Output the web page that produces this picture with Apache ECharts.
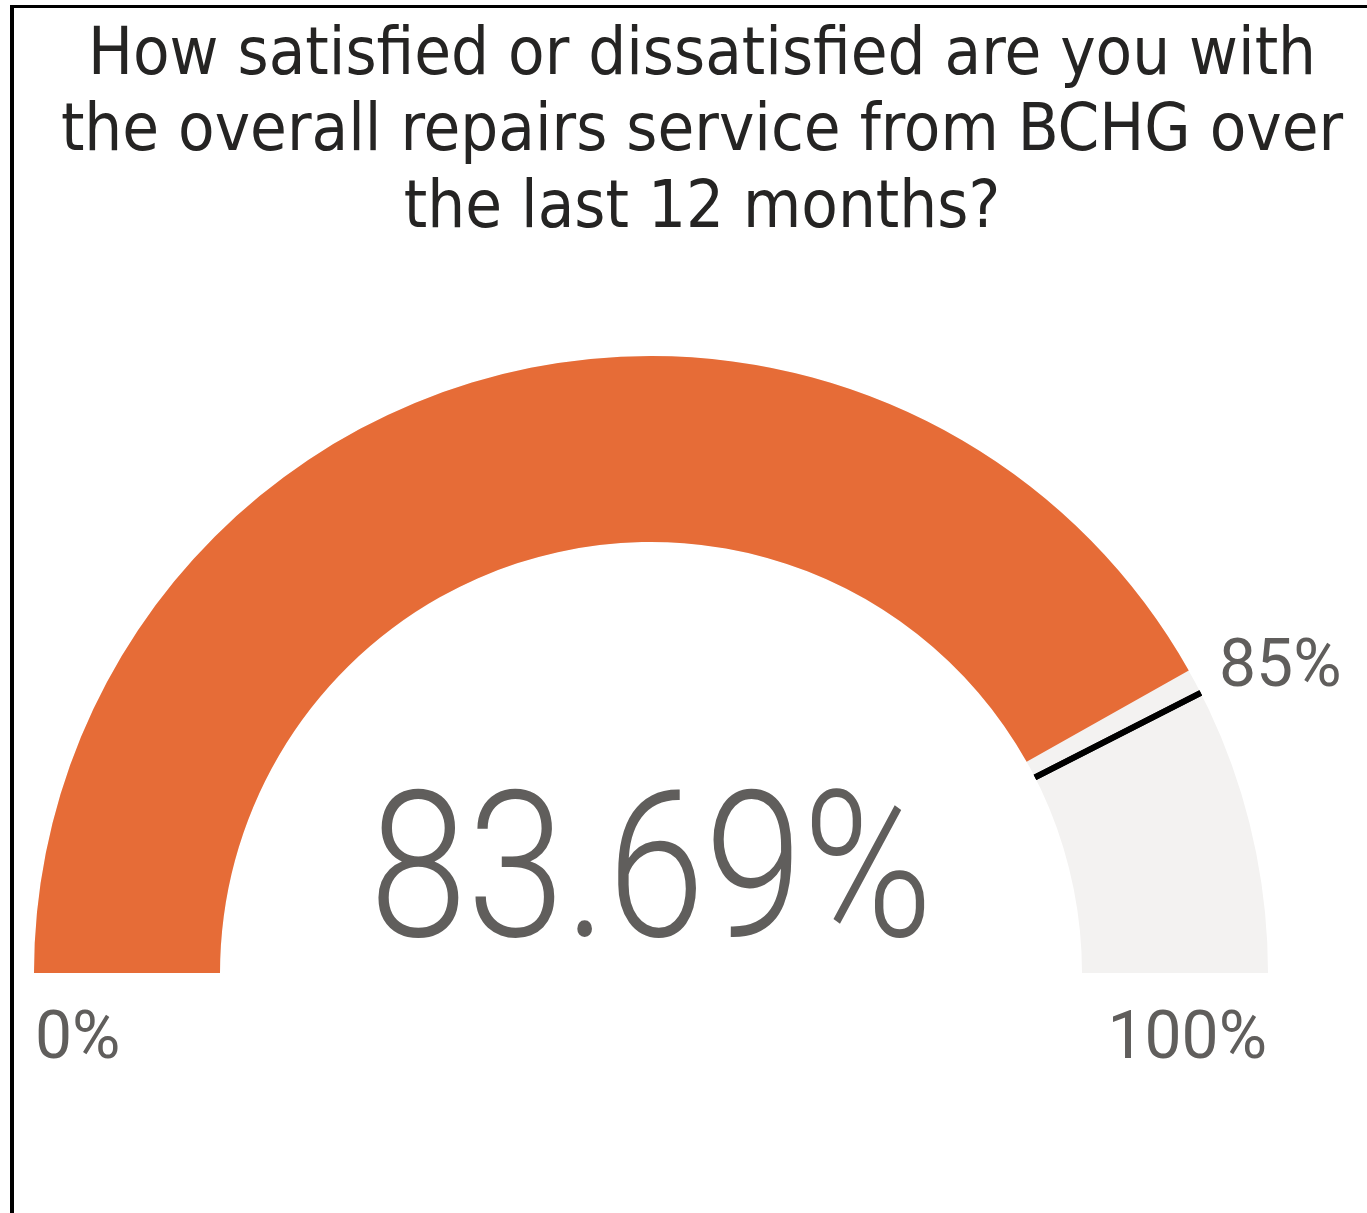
<!DOCTYPE html>
<html><head><meta charset="utf-8">
<script src="https://cdn.jsdelivr.net/npm/echarts@6/dist/echarts.min.js"></script>
<style>
html,body{margin:0;padding:0;background:#fff;overflow:hidden}
#frame{position:absolute;left:10px;top:5px;width:1357px;height:1208px;border-left:4px solid #000;border-top:3px solid #000;box-sizing:border-box}
#chart{position:absolute;left:0;top:0;width:1367px;height:1213px}
</style></head><body>
<div id="frame"></div><div id="chart"></div>
<script>
const titleLines = [
  'How satisfied or dissatisfied are you with',
  'the overall repairs service from BCHG over',
  'the last 12 months?'
];
const axisMin = 0;
const axisMax = 100;
const actualValues = [83.69];
const targetValues = [85];
const minLabel = '0%';
const maxLabel = '100%';
const targetLabels = ['85%'];

const CX = 651, CY = 973, R = 617, BAND = 186;
const startA = 180, endA = 0;
const targetAngle = startA - (startA - endA) * (targetValues[0] - axisMin) / (axisMax - axisMin);
const labelFont = 'Roboto, "Noto Sans", sans-serif';
const titleFont = '"DejaVu Sans Condensed", Roboto, sans-serif';
const numFont = 'Roboto, "Noto Sans", sans-serif';

const chart = echarts.init(document.getElementById('chart'), null, {renderer: 'canvas'});
chart.setOption({
  animation: false,
  title: {
    text: titleLines.join('\n'),
    left: 697, top: 13, textAlign: 'center',
    textStyle: {fontSize: 66.5, lineHeight: 76.5, color: '#252423', fontWeight: 'normal', fontFamily: titleFont}
  },
  series: [
    {
      type: 'gauge', center: [CX, CY], radius: R,
      startAngle: startA, endAngle: endA, min: axisMin, max: axisMax,
      progress: {show: true, width: BAND, roundCap: false, itemStyle: {color: '#E66C37'}},
      axisLine: {show: true, roundCap: false, lineStyle: {width: BAND, color: [[1, '#F3F2F1']]}},
      pointer: {show: false}, anchor: {show: false},
      axisTick: {show: false}, splitLine: {show: false}, axisLabel: {show: false},
      title: {show: false}, detail: {show: false},
      data: actualValues.map(v => ({value: v}))
    },
    {
      type: 'gauge', center: [CX, CY], radius: R,
      startAngle: targetAngle, endAngle: targetAngle, min: axisMin, max: axisMax,
      splitNumber: 1,
      axisLine: {show: false, lineStyle: {width: 0}},
      progress: {show: false}, pointer: {show: false}, anchor: {show: false},
      axisTick: {show: false}, axisLabel: {show: false},
      splitLine: {show: true, distance: 0, length: BAND, lineStyle: {color: '#000', width: 6}},
      title: {show: false}, detail: {show: false},
      data: targetValues.map(v => ({value: v}))
    }
  ],
  graphic: [
    {type: 'text', x: CX, y: 885, scaleX: 0.86, z: 10,
     style: {text: actualValues[0].toFixed(2) + '%', x: 0, y: 0, align: 'center', verticalAlign: 'middle',
             fontSize: 205, fontWeight: 300, fill: '#605E5C', fontFamily: numFont}},
    {type: 'text', x: 35, y: 1041,
     style: {text: minLabel, x: 0, y: 0, align: 'left', verticalAlign: 'middle', fontSize: 66, fill: '#605E5C', fontFamily: labelFont}},
    {type: 'text', x: 1267, y: 1041,
     style: {text: maxLabel, x: 0, y: 0, align: 'right', verticalAlign: 'middle', fontSize: 66, fill: '#605E5C', fontFamily: labelFont}},
    {type: 'text', x: 1219, y: 669,
     style: {text: targetLabels[0], x: 0, y: 0, align: 'left', verticalAlign: 'middle', fontSize: 66, fill: '#605E5C', fontFamily: labelFont}}
  ]
});
</script>
</body></html>
